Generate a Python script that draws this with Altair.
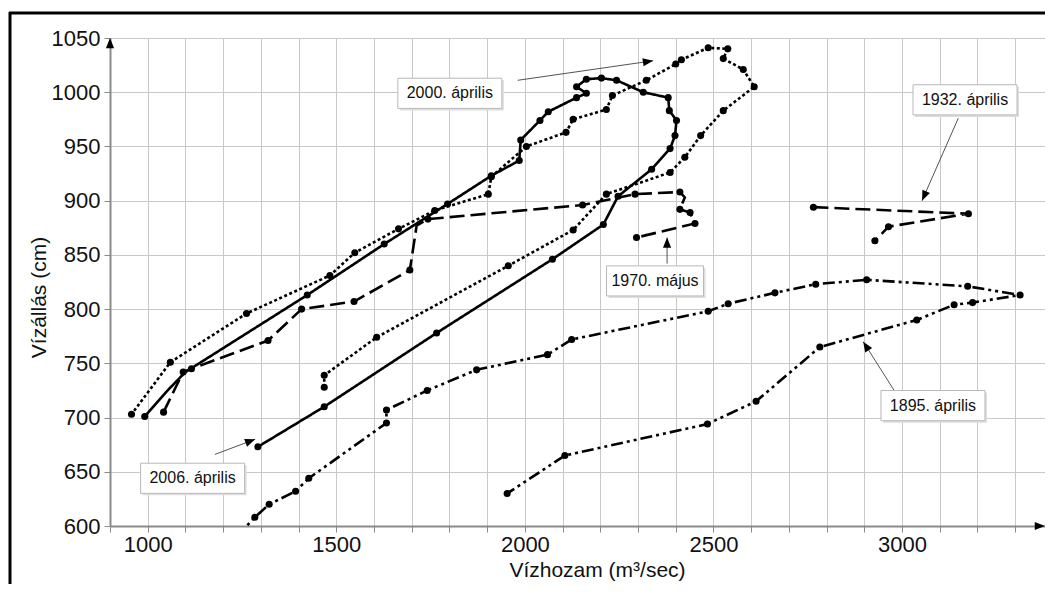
import math
import altair as alt
import pandas as pd

# ---------------- data ----------------
W, H = 935, 488
X_DOMAIN = [900, 3379]
Y_DOMAIN = [600, 1050]

series_names = ["1895. április", "1932. április", "1970. május", "2000. április", "2006. április"]
series_dash = [[12, 4, 3, 4, 3, 4], [15, 6], [15, 6], [3, 2.5], [1, 0]]

q_1895 = [1235, 1284, 1322, 1392, 1427, 1633, 1633, 1741, 1872, 2060, 2124, 2486, 2539,
          2663, 2771, 2906, 3174, 3313, 3187, 3138, 3039, 2782, 2613, 2484, 2106, 1953]
h_1895 = [590, 608, 620, 632, 644, 695, 707, 725, 744, 758, 772, 798, 805,
          815, 823, 827, 821, 813, 806, 804, 790, 765, 715, 694, 665, 630]
nodot_1895 = [0]

q_1932 = [2765, 3176, 2964, 2928]
h_1932 = [894, 888, 876, 863]
nodot_1932 = []

q_1970 = [1042, 1094, 1116, 1319, 1408, 1547, 1695, 1713, 1743, 2153, 2292, 2411,
          2424, 2411, 2438, 2451, 2296]
h_1970 = [705, 742, 745, 771, 800, 807, 836, 877, 883, 896, 906, 908,
          903, 892, 889, 879, 866]
nodot_1970 = [7, 12]

q_2000 = [1468, 1468, 1607, 1956, 2128, 2216, 2385, 2424, 2466, 2526, 2608, 2579, 2526,
          2538, 2486, 2415, 2400, 2322, 2232, 2216, 2128, 2109, 2004, 1911, 1903, 1761,
          1665, 1549, 1483, 1262, 1060, 957]
h_2000 = [728, 739, 774, 840, 873, 906, 926, 940, 960, 983, 1005, 1021, 1031,
          1040, 1041, 1030, 1026, 1011, 997, 984, 975, 963, 950, 922, 906, 891,
          874, 852, 831, 796, 751, 703]
nodot_2000 = []

q_2006 = [1292, 1468, 1766, 2073, 2208, 2247, 2336, 2385, 2398, 2402, 2383, 2380, 2314,
          2243, 2203, 2163, 2137, 2163, 2137, 2062, 2040, 1989, 1985, 1911, 1795, 1627,
          1423, 1100, 1050, 992]
h_2006 = [673, 710, 778, 846, 878, 904, 929, 948, 960, 974, 983, 995, 1000,
          1011, 1013, 1012, 1005, 999, 995, 982, 974, 956, 937, 923, 897, 860,
          813, 742, 724, 701]
nodot_2006 = [27, 28]

# annotations: label, box centre, arrow start, arrow tip
ann_labels = ["2000. április", "1970. május", "1932. április", "1895. április", "2006. április"]
ann_q = [1801, 2345, 3167, 3082, 1119]
ann_h = [999, 826, 993, 711, 644]
arr_q1 = [1981, 2377, 3149, 2979, 1178]
arr_h1 = [1011, 842, 976, 725, 666]
arr_q2 = [2340, 2377, 3053, 2897, 1285]
arr_h2 = [1029, 866, 900, 770, 680]
ann_box = ["wide", "narrow", "wide", "wide", "wide"]

x_ticks = list(range(900, 3400, 100))
y_ticks = list(range(600, 1051, 50))

# ---------------- tables ----------------
rows = []
for name, qs, hs, nd in [
    (series_names[0], q_1895, h_1895, nodot_1895),
    (series_names[1], q_1932, h_1932, nodot_1932),
    (series_names[2], q_1970, h_1970, nodot_1970),
    (series_names[3], q_2000, h_2000, nodot_2000),
    (series_names[4], q_2006, h_2006, nodot_2006),
]:
    for i, (q, h) in enumerate(zip(qs, hs)):
        rows.append({"series": name, "i": i, "q": q, "h": h, "dot": 0 if i in nd else 1})
df = pd.DataFrame(rows)

sx = W / (X_DOMAIN[1] - X_DOMAIN[0])
sy = H / (Y_DOMAIN[1] - Y_DOMAIN[0])


def head_angle(x1, y1, x2, y2):
    a = math.degrees(math.atan2((x2 - x1) * sx, (y2 - y1) * sy))
    return a % 360


ann = pd.DataFrame({
    "label": ann_labels, "q": ann_q, "h": ann_h, "box": ann_box,
    "q1": arr_q1, "h1": arr_h1, "q2": arr_q2, "h2": arr_h2,
    "angle": [head_angle(a, b, c, d) for a, b, c, d in zip(arr_q1, arr_h1, arr_q2, arr_h2)],
})

axis_heads = pd.DataFrame({
    "q": [X_DOMAIN[0], X_DOMAIN[1]],
    "h": [Y_DOMAIN[1], Y_DOMAIN[0]],
    "angle": [0, 90],
})

FONT = "Liberation Sans"
HEAD = "M0,0L-0.4,1L0.4,1Z"
BOX_WIDE = "M-1,-0.29H1V0.29H-1Z"
BOX_NARROW = "M-1,-0.31H1V0.31H-1Z"

xs = alt.Scale(domain=X_DOMAIN, nice=False, zero=False)
ys = alt.Scale(domain=Y_DOMAIN, nice=False, zero=False)

x_axis = alt.Axis(
    values=x_ticks,
    labelExpr="datum.value % 500 == 0 ? format(datum.value, 'd') : ''",
    title="Vízhozam (m³/sec)",
    tickSize=6, labelPadding=2,
    titleX=487, titleY=44, titleBaseline="middle", titleAlign="center",
)
y_axis = alt.Axis(
    values=y_ticks, format="d",
    title="Vízállás (cm)",
    tickSize=6, labelPadding=4,
    titleX=-71, titleY=259, titleBaseline="middle", titleAlign="center", titleAngle=270,
)


def X(field):
    return alt.X(field, scale=xs, axis=x_axis)


def Y(field):
    return alt.Y(field, scale=ys, axis=y_axis)


frame_top = alt.Chart(pd.DataFrame({"a": [0]})).mark_rule(color="black", strokeWidth=3).encode(
    x=alt.value(-101), x2=alt.value(W + 20), y=alt.value(-25))
frame_left = alt.Chart(pd.DataFrame({"a": [0]})).mark_rule(color="black", strokeWidth=3).encode(
    x=alt.value(-100), y=alt.value(-26), y2=alt.value(H + 80))

lines = alt.Chart(df).mark_line(color="black", strokeWidth=2.6, clip=True).encode(
    x=X("q:Q"), y=Y("h:Q"),
    detail="series:N",
    order="i:Q",
    strokeDash=alt.StrokeDash("series:N", scale=alt.Scale(domain=series_names, range=series_dash),
                              legend=None),
)

points = alt.Chart(df).transform_filter("datum.dot == 1").mark_point(
    filled=True, color="black", size=50, opacity=1, clip=True
).encode(x=X("q:Q"), y=Y("h:Q"))

arrows = alt.Chart(ann).mark_rule(color="#404040", strokeWidth=0.9).encode(
    x=X("q1:Q"), y=Y("h1:Q"), x2="q2:Q", y2="h2:Q",
)
heads = alt.Chart(ann).mark_point(shape=HEAD, filled=True, color="black", size=420, opacity=1).encode(
    x=X("q2:Q"), y=Y("h2:Q"),
    angle=alt.Angle("angle:Q", scale=None),
)
box_shape = alt.Shape("box:N", scale=alt.Scale(domain=["wide", "narrow"], range=[BOX_WIDE, BOX_NARROW]),
                      legend=None)
box_size = alt.Size("box:N", scale=alt.Scale(domain=["wide", "narrow"], range=[104 ** 2, 97 ** 2]),
                    legend=None)
shadows = alt.Chart(ann).mark_point(filled=True, fill="#dedede", strokeWidth=0, opacity=1,
                                    xOffset=2, yOffset=2).encode(
    x=X("q:Q"), y=Y("h:Q"), shape=box_shape, size=box_size,
)
boxes = alt.Chart(ann).mark_point(filled=True, fill="white", stroke="#b8b8b8", strokeWidth=1,
                                  opacity=1, fillOpacity=1).encode(
    x=X("q:Q"), y=Y("h:Q"), shape=box_shape, size=box_size,
)
texts = alt.Chart(ann).mark_text(font=FONT, fontSize=16, color="#111111").encode(
    x=X("q:Q"), y=Y("h:Q"),
    text="label:N",
)
axis_arrows = alt.Chart(axis_heads).mark_point(shape=HEAD, filled=True, color="black", size=420,
                                               opacity=1).encode(
    x=X("q:Q"), y=Y("h:Q"),
    angle=alt.Angle("angle:Q", scale=None),
)

chart = alt.layer(
    lines, points, arrows, heads, shadows, boxes, texts, axis_arrows, frame_top, frame_left
).properties(
    width=W, height=H,
    padding={"left": 102, "top": 30, "right": 0, "bottom": 58},
    autosize=alt.AutoSizeParams(type="none"),
    background="white",
).configure_view(stroke=None).configure_axis(
    grid=True, gridColor="#c8c8c8", gridWidth=1,
    domainColor="#8a8a8a", domainWidth=2,
    tickColor="#8a8a8a", tickWidth=1,
    labelFont=FONT, labelFontSize=22, labelColor="#111111",
    titleFont=FONT, titleFontSize=21, titleFontWeight="normal", titleColor="#111111",
)

chart.save("out.html", embed_options={"renderer": "svg", "actions": False})
